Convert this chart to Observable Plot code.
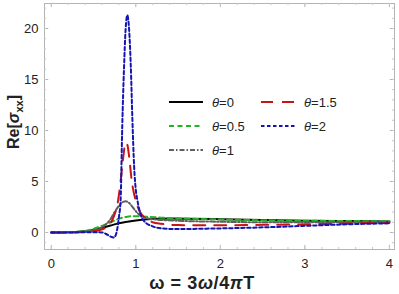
<!DOCTYPE html>
<html><head><meta charset="utf-8">
<script src="https://cdn.jsdelivr.net/npm/d3@7"></script>
<script src="https://cdn.jsdelivr.net/npm/@observablehq/plot@0.6"></script>
<style>body{margin:0;background:#fff;font-family:"Liberation Sans",Arial,sans-serif}</style>
</head><body><div id="chart"></div>
<script>
const seriesNames = ["θ=0", "θ=0.5", "θ=1", "θ=1.5", "θ=2"];
const colors = ["#000000", "#22b422", "#5f5f5f", "#c81414", "#1414b4"];
const dashes = ["none", "5,3.5", "5,2,1.5,2", "12,9", "3.5,2.5"];

const w0 = [0,0.2,0.4,0.5,0.6,0.7,0.8,0.9,1.0,1.1,1.2,1.4,1.6,2,2.5,3,3.5,4];
const v0 = [0,0.02,0.12,0.25,0.45,0.68,0.9,1.05,1.18,1.27,1.32,1.36,1.35,1.3,1.22,1.16,1.12,1.08];

const w05 = [0,0.2,0.4,0.5,0.6,0.7,0.8,0.9,1.0,1.1,1.3,1.5,2,2.5,3,3.5,4];
const v05 = [0,0.03,0.15,0.35,0.65,1.0,1.35,1.55,1.6,1.55,1.45,1.38,1.28,1.2,1.15,1.12,1.1];

const w1 = [0,0.2,0.4,0.5,0.6,0.7,0.75,0.8,0.85,0.88,0.92,0.97,1.02,1.1,1.2,1.5,2,2.5,3,3.5,4];
const v1 = [0,0.02,0.1,0.2,0.5,1.3,2.0,2.6,3.0,3.05,2.9,2.4,1.9,1.5,1.3,1.15,1.05,1.0,1.0,1.0,1.0];

const w15 = [0,0.2,0.4,0.5,0.6,0.7,0.75,0.79,0.82,0.85,0.88,0.9,0.92,0.95,1.0,1.05,1.1,1.2,1.3,1.5,2,2.5,3,3.5,4];
const v15 = [0,0.01,0.05,0.12,0.3,0.9,1.8,3.1,5.0,7.3,8.8,8.6,7.5,5.2,3.1,2.0,1.5,1.0,0.85,0.72,0.7,0.75,0.8,0.88,0.95];

const w2 = [0,0.2,0.4,0.5,0.6,0.65,0.7,0.74,0.76,0.78,0.8,0.82,0.84,0.86,0.88,0.9,0.92,0.94,0.96,0.98,1.0,1.02,1.06,1.1,1.2,1.3,1.5,1.75,2,2.5,3,3.5,4];
const v2 = [0,0,0.02,0.03,0,-0.15,-0.4,-0.5,-0.3,0.3,1.5,3.1,10.5,16,20,21.3,20,16.5,11,6.5,4.2,3.1,1.7,1.1,0.6,0.4,0.33,0.36,0.4,0.5,0.65,0.8,0.9];

const xTicks = [0,1,2,3,4];
const yTicks = [0,5,10,15,20];
const xMinor = d3.range(0, 4.001, 0.2);
const yMinor = d3.range(-1, 22.5, 1);

const allW = [w0,w05,w1,w15,w2], allV = [v0,v05,v1,v15,v2];
const data = [];
allW.forEach((ws, i) => ws.forEach((w, j) => data.push({s: seriesNames[i], w, v: allV[i][j]})));

const X0 = -0.08, X1 = 4.06, Y0 = -1.67, Y1 = 22.45;
const yl = 0.4;

const marks = [
  Plot.frame({stroke: "#b4b4b4", strokeWidth: 1}),
  Plot.ruleX(xTicks, {x: d=>d, y1: Y0, y2: Y0+yl, stroke: "#b4b4b4"}),
  Plot.ruleX(xTicks, {x: d=>d, y1: Y1, y2: Y1-yl, stroke: "#b4b4b4"}),
  Plot.ruleX(xMinor, {x: d=>d, y1: Y0, y2: Y0+yl/2, stroke: "#c8c8c8"}),
  Plot.ruleX(xMinor, {x: d=>d, y1: Y1, y2: Y1-yl/2, stroke: "#c8c8c8"}),
  Plot.ruleY(yTicks, {y: d=>d, x1: X0, x2: X0+0.05, stroke: "#b4b4b4"}),
  Plot.ruleY(yTicks, {y: d=>d, x1: X1, x2: X1-0.05, stroke: "#b4b4b4"}),
  Plot.ruleY(yMinor, {y: d=>d, x1: X0, x2: X0+0.025, stroke: "#c8c8c8"}),
  Plot.ruleY(yMinor, {y: d=>d, x1: X1, x2: X1-0.025, stroke: "#c8c8c8"}),
  Plot.axisX(xTicks, {tickSize: 0, tickPadding: 9, fontSize: 13, fill: "#222"}),
  Plot.axisY(yTicks, {tickSize: 0, tickPadding: 6, fontSize: 13, fill: "#222"}),
];
seriesNames.forEach((name, i) => {
  marks.push(Plot.line(data.filter(d => d.s === name), {
    x: "w", y: "v", stroke: colors[i], strokeWidth: 2,
    strokeDasharray: dashes[i] === "none" ? undefined : dashes[i],
    curve: "monotone-x"
  }));
});

const chart = Plot.plot({
  width: 399, height: 294,
  marginLeft: 44, marginRight: 5, marginTop: 3, marginBottom: 45,
  x: {domain: [X0, X1], label: null},
  y: {domain: [Y0, Y1], label: null},
  style: {fontFamily: "Liberation Sans, Arial, sans-serif", background: "#fff"},
  marks
});
document.getElementById("chart").appendChild(chart);

const svg = d3.select(chart);
const xlab = svg.append("text").attr("x", 202).attr("y", 289).attr("text-anchor", "middle")
  .attr("font-size", 18).attr("font-weight", "bold").attr("fill", "#222").attr("letter-spacing", 0.6);
xlab.append("tspan").text("ω = 3");
xlab.append("tspan").attr("font-style", "italic").text("ω");
xlab.append("tspan").text("/4");
xlab.append("tspan").attr("font-style", "italic").text("π");
xlab.append("tspan").text("T");

const ylab = svg.append("text").attr("transform", "translate(19,122) rotate(-90)")
  .attr("text-anchor", "middle").attr("font-size", 16).attr("font-weight", "bold").attr("fill", "#222");
ylab.append("tspan").text("Re[");
ylab.append("tspan").attr("font-style", "italic").text("σ");
ylab.append("tspan").attr("font-size", 11).attr("dy", 4).text("xx");
ylab.append("tspan").attr("dy", -4).text("]");

const legPos = [[169,102],[169,126],[169,150],[261,102],[261,126]];
const lg = svg.append("g").attr("text-anchor", "start");
seriesNames.forEach((name, i) => {
  const [lx, ly] = legPos[i];
  lg.append("line").attr("x1", lx).attr("x2", lx+34).attr("y1", ly).attr("y2", ly)
    .attr("stroke", colors[i]).attr("stroke-width", 2)
    .attr("stroke-dasharray", dashes[i] === "none" ? null : dashes[i]);
  const t = lg.append("text").attr("x", lx+43).attr("y", ly+4.5).attr("text-anchor", "start")
    .attr("font-size", 13).attr("fill", "#222");
  t.append("tspan").attr("font-style", "italic").text(name.slice(0,1));
  t.append("tspan").text(name.slice(1));
});
</script></body></html>
